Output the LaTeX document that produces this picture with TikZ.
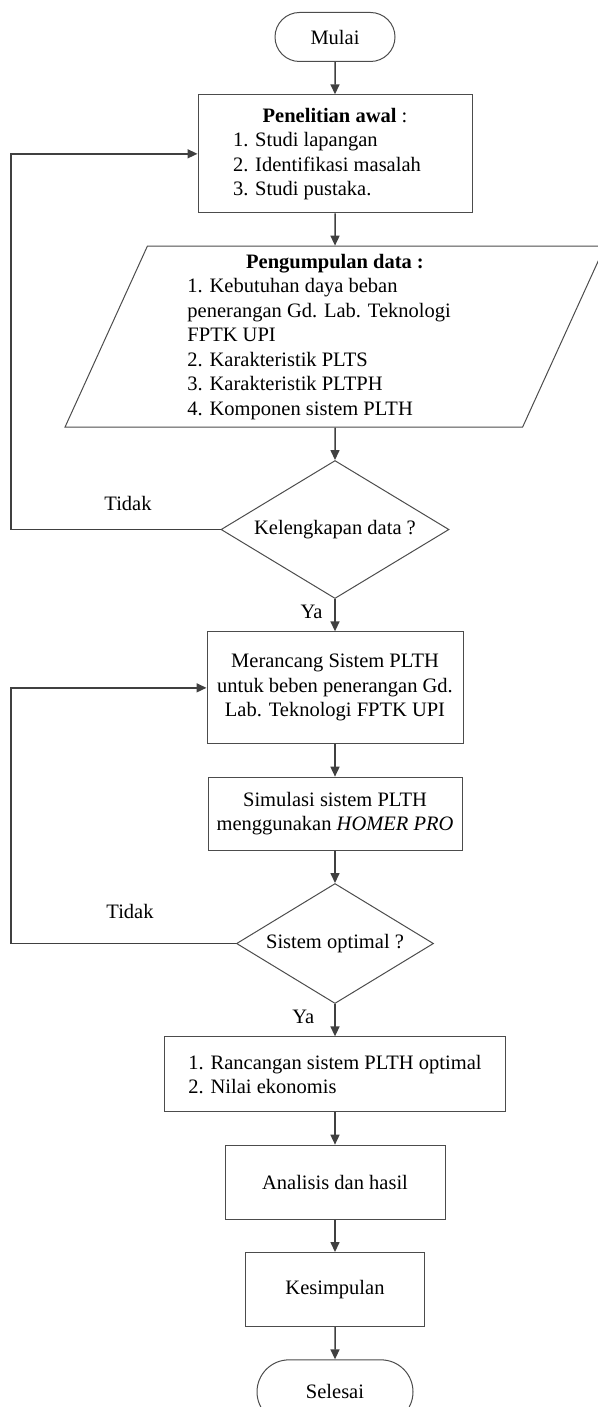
\documentclass[tikz,border=0pt]{standalone}
\usepackage{fontspec}
\setmainfont{Liberation Serif}
\usetikzlibrary{shapes.geometric,shapes.misc}
\usetikzlibrary{arrows.meta}
\usetikzlibrary{positioning}

\begin{document}
\begin{tikzpicture}[x=0.6pt,y=-0.6pt]
\tikzset{every node/.style={font=\fontsize{12.3}{14.7}\selectfont},
  terminal/.style={rounded rectangle,draw=black!70,line width=0.6pt,minimum width=72pt,minimum height=29.4pt,inner sep=0pt},
  prosesbox/.style={rectangle,draw=black!70,line width=0.6pt,align=center,inner sep=2pt},
  databox/.style={trapezium,trapezium left angle=64,trapezium right angle=116,trapezium stretches body,draw=black!70,line width=0.6pt,minimum width=324pt,minimum height=108.6pt,text width=177pt,align=flush left,inner sep=1pt},
  keputusan/.style={diamond,draw=black!70,line width=0.6pt,aspect=1.65,inner sep=0pt},
  panah/.style={draw=black!75,line width=0.9pt,-{Triangle[length=6pt,width=5.4pt]}},
  label/.style={inner sep=0pt},
  node distance=19.4pt}
\useasboundingbox (0,0) rectangle (597,1407);
\node[terminal](mulai) at (335,37){Mulai};
\node[prosesbox,minimum width=164.4pt,minimum height=70.8pt,text width=122.4pt,inner xsep=21pt,align=flush left](awal)[below=of mulai]{\hfill\textbf{Penelitian awal} :\hfill\null\\1. Studi lapangan\\2. Identifikasi masalah\\3. Studi pustaka.};
\draw[panah](mulai) -- (awal);
\node[databox](data)[below=of awal]{\hfill\textbf{Pengumpulan data :}\hfill\null\\1. Kebutuhan daya beban\\penerangan Gd. Lab. Teknologi\\FPTK UPI\\2. Karakteristik PLTS\\3. Karakteristik PLTPH\\4. Komponen sistem PLTH};
\draw[panah](awal) -- (data);
\node[keputusan,minimum width=136.8pt,minimum height=82.8pt](cek)[below=of data]{Kelengkapan data ?};
\draw[panah](data) -- (cek);
\node[prosesbox,minimum width=153.6pt,minimum height=67.2pt](rancang)[below=of cek]{Merancang Sistem PLTH\\untuk beben penerangan Gd.\\Lab. Teknologi FPTK UPI};
\draw[panah](cek) -- node[label,left=7pt,pos=0.4](ya1){Ya} (rancang);
\node[prosesbox,minimum width=152.4pt,minimum height=43.8pt](simulasi)[below=of rancang]{Simulasi sistem PLTH\\menggunakan \textit{HOMER PRO}};
\draw[panah](rancang) -- (simulasi);
\node[keputusan,minimum width=118.2pt,minimum height=72pt](optimal)[below=of simulasi]{Sistem optimal ?};
\draw[panah](simulasi) -- (optimal);
\node[prosesbox,minimum width=204.6pt,minimum height=45pt,align=left](hasil)[below=of optimal]{1. Rancangan sistem PLTH optimal\\2. Nilai ekonomis};
\draw[panah](optimal) -- node[label,left=12pt,pos=0.4](ya2){Ya} (hasil);
\node[prosesbox,minimum width=132pt,minimum height=44.4pt](analisis)[below=of hasil]{Analisis dan hasil};
\draw[panah](hasil) -- (analisis);
\node[prosesbox,minimum width=107.4pt,minimum height=44.4pt](simpul)[below=of analisis]{Kesimpulan};
\draw[panah](analisis) -- (simpul);
\node[terminal,minimum width=93.6pt,minimum height=38.4pt](selesai)[below=of simpul]{Selesai};
\draw[panah](simpul) -- (selesai);
% jalur kembali
\coordinate(kiri) at (11,0);
\draw[panah](cek.west) -- (cek.west -| kiri) |- (awal.west);
\node[label](tidak1) at (128,503){Tidak};
\draw[panah](optimal.west) -- (optimal.west -| kiri) |- (rancang.west);
\node[label](tidak2) at (130,911){Tidak};
\end{tikzpicture}
\end{document}
